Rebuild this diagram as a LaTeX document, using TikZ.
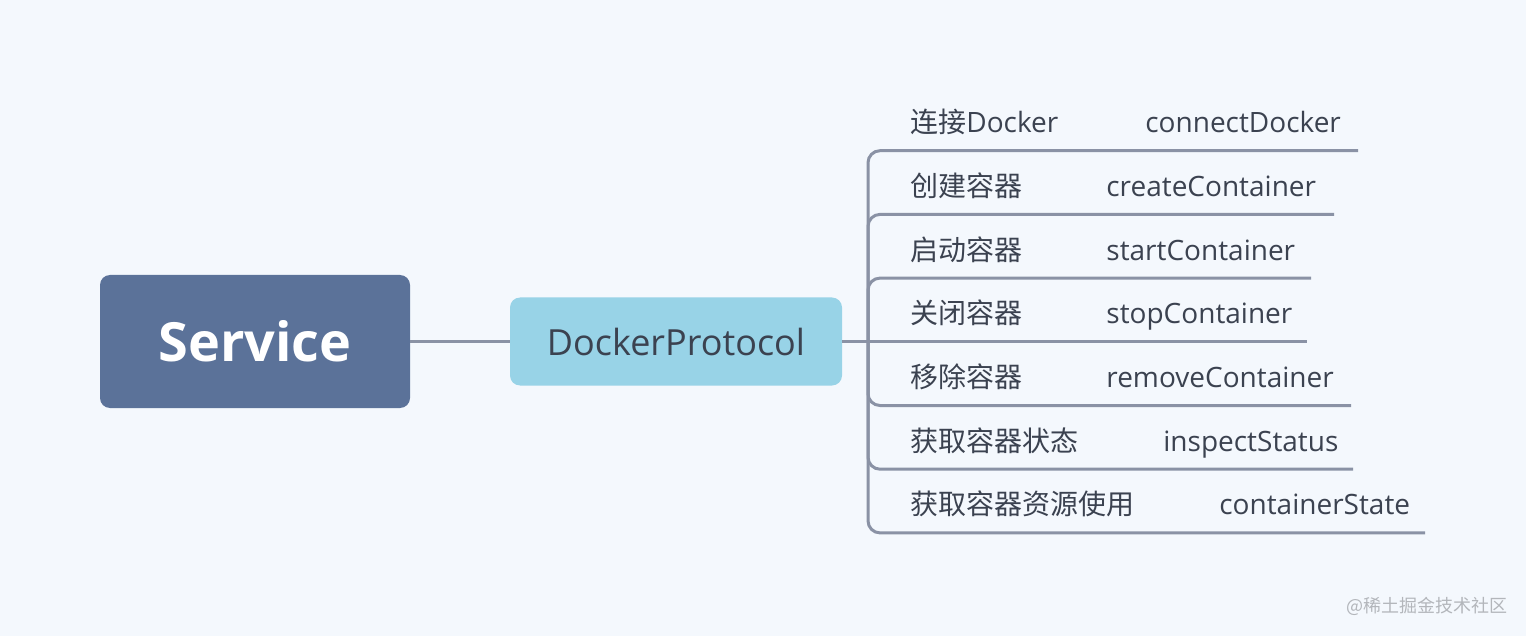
\documentclass[tikz,border=0pt]{standalone}
\usepackage{fontspec}
\setmainfont{Open Sans}
\newfontfamily\cjk{Noto Sans CJK SC}
\usetikzlibrary{positioning}
\definecolor{bg}{HTML}{F4F8FD}
\definecolor{rootfill}{HTML}{5B7299}
\definecolor{topicfill}{HTML}{98D3E7}
\definecolor{branchline}{HTML}{8A92A5}
\definecolor{ink}{HTML}{3B4250}
\definecolor{wmark}{HTML}{B3B6BB}

\begin{document}
\begin{tikzpicture}[x=0.5pt,y=-0.5pt,
  rootbox/.style={fill=rootfill, rounded corners=5pt, minimum width=155pt, minimum height=66.5pt,
    text=white, font=\bfseries\fontsize{27}{31}\selectfont},
  topicbox/.style={fill=topicfill, rounded corners=5pt, minimum width=166pt, minimum height=44pt,
    text=ink, font=\fontsize{18}{22}\selectfont},
  leaf/.style={anchor=base west, inner sep=0pt, text=ink, font=\fontsize{14}{17}\selectfont},
  link/.style={draw=branchline, line width=1.5pt},
  fork/.style={link, rounded corners=6pt}]

\fill[bg] (0,0) rectangle (1526,636);

\coordinate (hub) at (868,341.5);

% main branch
\node[rootbox] (service) at (255,341.5) {Service};
\node[topicbox] (protocol) at (676,341.5) {DockerProtocol};
\draw[link] (service.east) -- (protocol.west);
\draw[link] (protocol.east) -- (hub);

% sub topics
\foreach \i/\y/\xe/\cn/\xm/\m in {
  1/150.7/1358/{\cjk 连接}Docker/1145/connectDocker,
  2/214.4/1334/\cjk 创建容器/1106/createContainer,
  3/278.1/1311/\cjk 启动容器/1106/startContainer,
  5/405.5/1351/\cjk 移除容器/1106/removeContainer,
  6/469.2/1353/\cjk 获取容器状态/1163/inspectStatus,
  7/532.9/1425/\cjk 获取容器资源使用/1219/containerState}
{
  \coordinate (end\i) at (\xe,\y);
  \draw[fork] (hub) |- (end\i);
  \node[leaf] (name\i) at (910,\y-18) {\cn};
  \node[leaf] (call\i) at (\xm,\y-18) {\m};
}

\coordinate (end4) at (1307,341.5);
\draw[link] (hub) -- (end4);
\node[leaf] (name4) at (910,341.5-18) {\cjk 关闭容器};
\node[leaf] (call4) at (1106,341.5-18) {stopContainer};

\node[anchor=east, inner sep=0pt, text=wmark, font=\cjk\fontsize{9}{11}\selectfont] (mark) at (1508,606) {@稀土掘金技术社区};
\end{tikzpicture}
\end{document}
